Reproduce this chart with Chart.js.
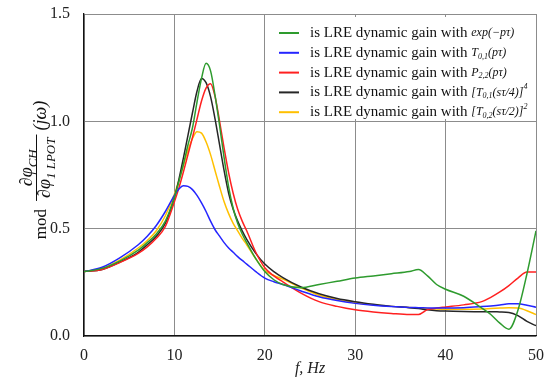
<!DOCTYPE html>
<html>
<head>
<meta charset="utf-8">
<script src="https://cdn.jsdelivr.net/npm/chart.js@4.4.1/dist/chart.umd.min.js"></script>
<style>
  body { margin: 0; background: #fff; }
  canvas { display: block; }
</style>
</head>
<body>
<canvas id="gainChart" width="545" height="380"></canvas>
<script>
// frequency grid, Hz
const freq = [0, 2, 4, 6, 7, 8, 9, 10, 10.5, 11, 11.5, 12, 12.5, 13, 13.5, 14, 14.5, 15, 15.5, 16, 16.5, 17, 17.5, 18, 19, 20,
  21, 22, 24, 26, 28, 30, 32, 34, 36, 37, 38, 39, 40, 42, 44, 45, 46, 47, 48, 49, 50];

// exp(-p tau)
const gainExp = [0.30, 0.315, 0.35, 0.40, 0.435, 0.475, 0.535, 0.645, 0.72, 0.80, 0.89, 0.97, 1.09, 1.20, 1.27, 1.235, 1.12, 0.98, 0.83, 0.695, 0.595, 0.525, 0.475, 0.435, 0.36, 0.30,
  0.262, 0.24, 0.225, 0.24, 0.255, 0.27, 0.28, 0.29, 0.30, 0.31, 0.28, 0.24, 0.218, 0.185, 0.13, 0.10, 0.06, 0.032, 0.12, 0.29, 0.49];
// T0,1(p tau)
const gainT01 = [0.30, 0.32, 0.365, 0.425, 0.465, 0.515, 0.58, 0.655, 0.685, 0.70, 0.697, 0.682, 0.655, 0.62, 0.58, 0.535, 0.495, 0.465, 0.435, 0.41, 0.39, 0.37, 0.352, 0.335, 0.30, 0.27,
  0.253, 0.24, 0.21, 0.183, 0.165, 0.152, 0.143, 0.137, 0.133, 0.132, 0.131, 0.13, 0.13, 0.132, 0.137, 0.14, 0.144, 0.15, 0.15, 0.143, 0.134];
// P2,2(p tau)
const gainP22 = [0.30, 0.31, 0.343, 0.385, 0.415, 0.455, 0.51, 0.625, 0.69, 0.765, 0.845, 0.925, 1.01, 1.095, 1.155, 1.175, 1.115, 1.00, 0.875, 0.76, 0.665, 0.59, 0.535, 0.49, 0.39, 0.318,
  0.28, 0.252, 0.20, 0.16, 0.138, 0.122, 0.112, 0.105, 0.10, 0.10, 0.123, 0.13, 0.135, 0.145, 0.16, 0.18, 0.205, 0.235, 0.27, 0.298, 0.298];
// [T0,1(s tau/4)]^4
const gainT01x4 = [0.30, 0.31, 0.345, 0.39, 0.425, 0.465, 0.525, 0.645, 0.73, 0.83, 0.935, 1.04, 1.14, 1.20, 1.18, 1.115, 1.01, 0.89, 0.77, 0.665, 0.59, 0.535, 0.49, 0.45, 0.385, 0.335,
  0.30, 0.272, 0.228, 0.197, 0.175, 0.16, 0.148, 0.138, 0.132, 0.128, 0.122, 0.118, 0.116, 0.114, 0.113, 0.113, 0.112, 0.11, 0.095, 0.068, 0.048];
// [T0,2(s tau/2)]^2
const gainT02x2 = [0.30, 0.315, 0.355, 0.41, 0.445, 0.49, 0.56, 0.66, 0.725, 0.795, 0.865, 0.92, 0.952, 0.945, 0.905, 0.845, 0.77, 0.695, 0.625, 0.57, 0.525, 0.49, 0.455, 0.425, 0.36, 0.305,
  0.282, 0.265, 0.225, 0.19, 0.17, 0.155, 0.145, 0.138, 0.133, 0.13, 0.128, 0.126, 0.125, 0.125, 0.126, 0.128, 0.13, 0.132, 0.13, 0.118, 0.10];

const legendPrefix = 'is LRE dynamic gain with ';
const legendFormulas = ['exp(−pτ)', 'T_{0,1}(pτ)', 'P_{2,2}(pτ)', '[T_{0,1}(sτ/4)]^{4}', '[T_{0,2}(sτ/2)]^{2}'];
const seriesColors = ['#2e9b2e', '#2525ff', '#ff2020', '#262626', '#ffc000'];
const seriesValues = [gainExp, gainT01, gainP22, gainT01x4, gainT02x2];

const SERIF = '"Liberation Serif", "Times New Roman", serif';

// draws text with _{sub} and ^{sup} pieces, returns end x
function drawRich(ctx, str, x, y, size, italic) {
  const re = /([_^])\{([^}]*)\}/g;
  const parts = [];
  let last = 0, m;
  while ((m = re.exec(str))) {
    if (m.index > last) parts.push({ t: str.slice(last, m.index), k: '' });
    parts.push({ t: m[2], k: m[1] });
    last = re.lastIndex;
  }
  if (last < str.length) parts.push({ t: str.slice(last), k: '' });
  parts.forEach(p => {
    const s = p.k ? Math.round(size * 0.7) : size;
    ctx.font = (italic ? 'italic ' : '') + s + 'px ' + SERIF;
    const dy = p.k === '_' ? size * 0.3 : (p.k === '^' ? -size * 0.45 : 0);
    ctx.fillText(p.t, x, y + dy);
    x += ctx.measureText(p.t).width;
  });
  return x;
}

function richWidth(ctx, str, size, italic) {
  ctx.save();
  ctx.globalAlpha = 0;
  const w = drawRich(ctx, str, 0, 0, size, italic);
  ctx.restore();
  return w;
}

const legendBox = {
  id: 'legendBox',
  afterDraw(chart) {
    const ctx = chart.ctx;
    ctx.save();
    ctx.fillStyle = '#fff';
    ctx.fillRect(278, 17, 254, 102);
    ctx.textBaseline = 'middle';
    legendFormulas.forEach((f, i) => {
      const y = 33 + i * 19.8;
      ctx.strokeStyle = seriesColors[i];
      ctx.lineWidth = 2;
      ctx.beginPath();
      ctx.moveTo(279, y);
      ctx.lineTo(299, y);
      ctx.stroke();
      ctx.fillStyle = '#111';
      ctx.font = '15px ' + SERIF;
      ctx.fillText(legendPrefix, 310, y);
      const x0 = 310 + ctx.measureText(legendPrefix).width;
      drawRich(ctx, f, x0, y, 12, true);
    });
    ctx.restore();
  }
};

const yTitle = {
  id: 'yTitle',
  afterDraw(chart) {
    const ctx = chart.ctx;
    const num = '∂φ_{CH}', den = '∂φ_{1 LPOT}', tail = '(jω)';
    const fs = 18;
    ctx.save();
    ctx.translate(36, 170);
    ctx.rotate(-Math.PI / 2);
    ctx.fillStyle = '#111';
    ctx.strokeStyle = '#111';
    ctx.textBaseline = 'alphabetic';
    ctx.font = '17px ' + SERIF;
    const wMod = ctx.measureText('mod').width;
    const wNum = richWidth(ctx, num, fs, true);
    const wDen = richWidth(ctx, den, fs, true);
    const wFrac = Math.max(wNum, wDen) + 6;
    const wTail = richWidth(ctx, tail, fs, true);
    const total = wMod + 8 + wFrac + 4 + wTail;
    let x = -total / 2;
    ctx.font = '17px ' + SERIF;
    ctx.fillText('mod', x, 10);
    x += wMod + 8;
    drawRich(ctx, num, x + (wFrac - wNum) / 2, -4, fs, true);
    drawRich(ctx, den, x + (wFrac - wDen) / 2, 14, fs, true);
    ctx.lineWidth = 1;
    ctx.beginPath();
    ctx.moveTo(x, 0.5);
    ctx.lineTo(x + wFrac, 0.5);
    ctx.stroke();
    x += wFrac + 4;
    drawRich(ctx, tail, x, 10, fs, true);
    ctx.restore();
  }
};

new Chart(document.getElementById('gainChart'), {
  type: 'line',
  data: {
    datasets: seriesValues.map((vals, i) => ({
      label: legendFormulas[i],
      data: freq.map((f, j) => ({ x: f, y: vals[j] })),
      borderColor: seriesColors[i],
      borderWidth: 1.5,
      pointRadius: 0,
      fill: false,
      cubicInterpolationMode: 'monotone'
    }))
  },
  options: {
    responsive: false,
    animation: false,
    devicePixelRatio: 1,
    layout: { padding: { left: 0, right: 9, top: 14, bottom: 0 } },
    plugins: {
      legend: { display: false },
      tooltip: { enabled: false }
    },
    scales: {
      x: {
        type: 'linear',
        min: 0,
        max: 50,
        ticks: {
          stepSize: 10,
          padding: 10,
          color: '#222',
          font: { family: SERIF, size: 16 },
          maxRotation: 0
        },
        grid: { color: '#8c8c8c', lineWidth: 1, drawTicks: false },
        border: { color: '#111', width: 1.3 },
        title: {
          display: true,
          text: 'f, Hz',
          color: '#222',
          font: { family: SERIF, size: 16, style: 'italic' },
          padding: { top: 0, bottom: 2 }
        },
        afterFit(s) {
          s.height = 44;
          s.paddingLeft = 0;
          s.paddingRight = 0;
        }
      },
      y: {
        min: 0,
        max: 1.5,
        ticks: {
          stepSize: 0.5,
          padding: 14,
          color: '#222',
          font: { family: SERIF, size: 16 },
          callback: v => v.toFixed(1)
        },
        grid: { color: '#8c8c8c', lineWidth: 1, drawTicks: false },
        border: { color: '#111', width: 1.3 },
        afterFit(s) {
          s.width = 84;
          s.paddingTop = 0;
          s.paddingBottom = 0;
        }
      }
    }
  },
  plugins: [legendBox, yTitle]
});
</script>
</body>
</html>
